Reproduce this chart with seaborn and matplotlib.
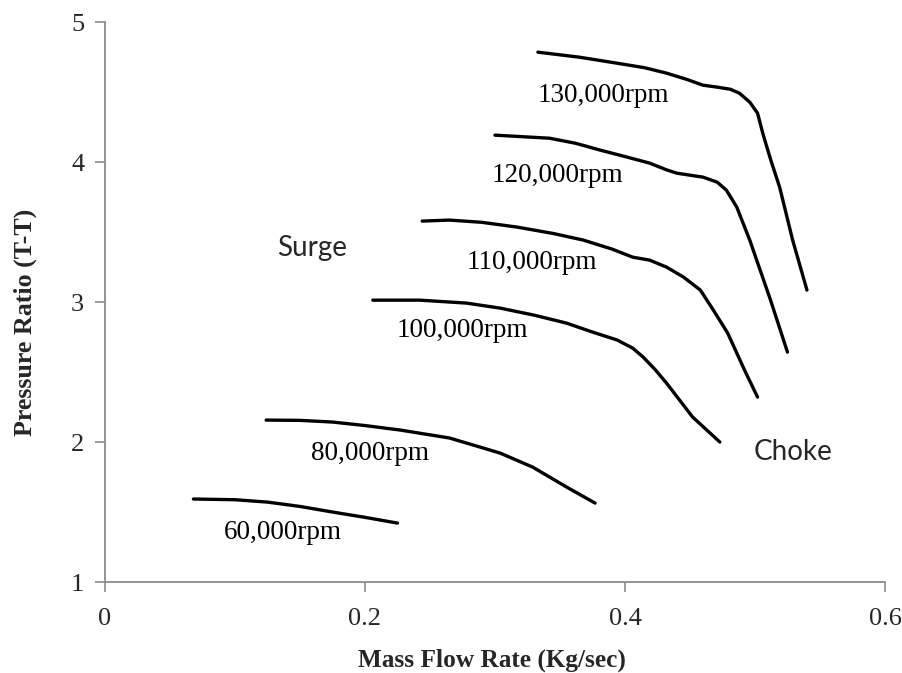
import seaborn as sns
import pandas as pd
import matplotlib.pyplot as plt

# speed lines
flow_60 = [0.068, 0.100, 0.125, 0.150, 0.175, 0.200, 0.225]
pr_60 = [1.593, 1.588, 1.571, 1.540, 1.500, 1.462, 1.421]

flow_80 = [0.124, 0.150, 0.175, 0.200, 0.227, 0.265, 0.290, 0.304, 0.329, 0.355, 0.377]
pr_80 = [2.157, 2.155, 2.143, 2.118, 2.086, 2.029, 1.960, 1.921, 1.821, 1.679, 1.564]

flow_100 = [0.206, 0.242, 0.278, 0.304, 0.330, 0.355, 0.375, 0.394, 0.406, 0.414, 0.423,
            0.432, 0.442, 0.452, 0.473]
pr_100 = [3.014, 3.014, 2.993, 2.957, 2.907, 2.850, 2.786, 2.729, 2.671, 2.607, 2.520,
          2.421, 2.300, 2.179, 2.000]

flow_110 = [0.244, 0.265, 0.290, 0.317, 0.345, 0.368, 0.390, 0.406, 0.419, 0.432, 0.445,
            0.458, 0.468, 0.479, 0.492, 0.502]
pr_110 = [3.579, 3.586, 3.570, 3.536, 3.490, 3.443, 3.379, 3.321, 3.300, 3.250, 3.179,
          3.086, 2.943, 2.779, 2.514, 2.321]

flow_120 = [0.300, 0.342, 0.362, 0.381, 0.400, 0.419, 0.432, 0.440, 0.450, 0.460, 0.471,
            0.478, 0.486, 0.496, 0.512, 0.525]
pr_120 = [4.193, 4.171, 4.135, 4.086, 4.040, 3.993, 3.945, 3.921, 3.907, 3.893, 3.857,
          3.800, 3.679, 3.443, 3.014, 2.643]

flow_130 = [0.333, 0.365, 0.394, 0.415, 0.432, 0.448, 0.460, 0.471, 0.481, 0.488, 0.496,
            0.502, 0.506, 0.512, 0.519, 0.529, 0.540]
pr_130 = [4.786, 4.750, 4.707, 4.675, 4.636, 4.590, 4.550, 4.536, 4.521, 4.493, 4.429,
          4.350, 4.207, 4.020, 3.821, 3.443, 3.086]

speeds = ["60,000rpm", "80,000rpm", "100,000rpm", "110,000rpm", "120,000rpm", "130,000rpm"]
flows = [flow_60, flow_80, flow_100, flow_110, flow_120, flow_130]
ratios = [pr_60, pr_80, pr_100, pr_110, pr_120, pr_130]
label_x = [0.137, 0.204, 0.275, 0.328, 0.348, 0.383]
label_y = [1.357, 1.921, 2.800, 3.286, 3.907, 4.479]

rows = []
for s, fx, py in zip(speeds, flows, ratios):
    for a, b in zip(fx, py):
        rows.append({"speed": s, "flow": a, "pr": b})
df = pd.DataFrame(rows)

sns.set_theme(style="white")
plt.rcParams['font.family'] = ['Liberation Serif', 'DejaVu Serif']

fig = plt.figure(figsize=(9.03, 6.73), dpi=100)
ax = fig.add_axes([0.1163, 0.1352, 0.8637, 0.8318])

sns.lineplot(data=df, x="flow", y="pr", hue="speed", palette=["black"] * 6,
             sort=False, estimator=None, legend=False, linewidth=2.4, ax=ax,
             solid_capstyle="round", solid_joinstyle="round")

for s, lx, ly in zip(speeds, label_x, label_y):
    ax.text(lx, ly, s, ha="center", va="center", fontsize=19.5, color="black")

ax.text(0.159, 3.386, "Surge", ha="center", va="center", fontsize=20, family="Lato")
ax.text(0.529, 1.93, "Choke", ha="center", va="center", fontsize=20, family="Lato")

ax.set_xlim(0, 0.6)
ax.set_ylim(1, 5)
ax.set_xticks([0, 0.2, 0.4, 0.6])
ax.set_xticklabels(["0", "0.2", "0.4", "0.6"])
ax.set_yticks([1, 2, 3, 4, 5])
ax.tick_params(axis="both", labelsize=19, length=7, width=1.2, color="#8c8c8c",
               bottom=True, left=True)
ax.tick_params(axis="x", pad=12)
ax.tick_params(axis="y", pad=8)
ax.set_xlabel("Mass Flow Rate (Kg/sec)", fontsize=18.2, fontweight="bold", va="center")
ax.set_ylabel("Pressure Ratio (T-T)", fontsize=18.7, fontweight="bold", va="center")
ax.xaxis.set_label_coords(0.496, -0.139)
ax.yaxis.set_label_coords(-0.1026, 0.464)

for side in ["top", "right"]:
    ax.spines[side].set_visible(False)
for side in ["left", "bottom"]:
    ax.spines[side].set_color("#8c8c8c")
    ax.spines[side].set_linewidth(1.3)

plt.savefig("out.png", dpi=100)
